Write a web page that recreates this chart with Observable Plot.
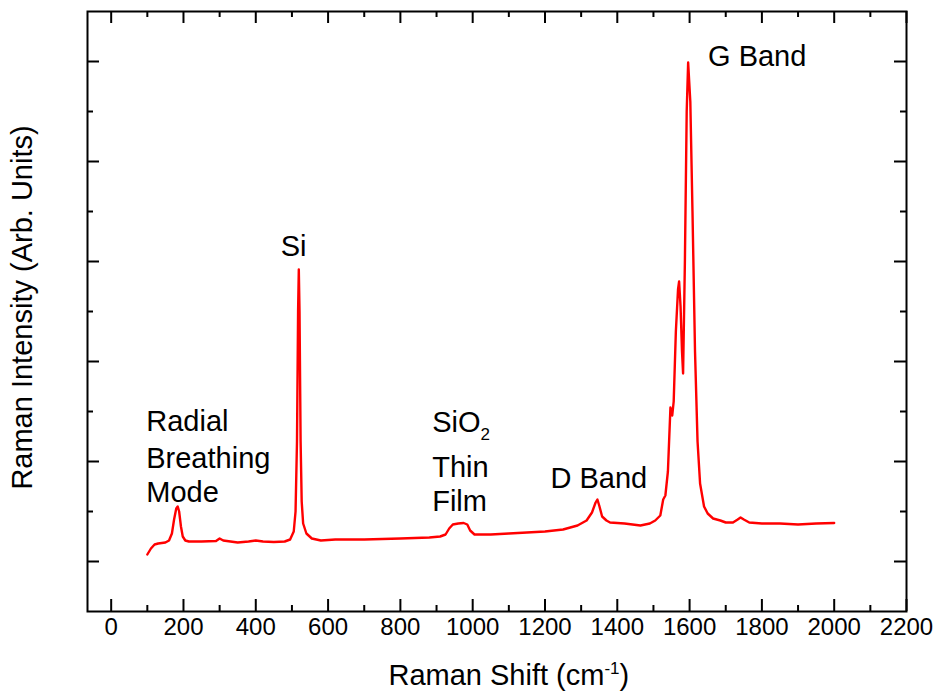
<!DOCTYPE html>
<html>
<head>
<meta charset="utf-8">
<script src="https://cdn.jsdelivr.net/npm/d3@7"></script>
<script src="https://cdn.jsdelivr.net/npm/@observablehq/plot@0.6"></script>
<style>
  html, body { margin: 0; padding: 0; background: #fff; }
  #chart { width: 938px; height: 700px; }
</style>
</head>
<body>
<div id="chart"></div>
<script>
// Spectrum (Raman shift in cm^-1, intensity in arbitrary units)
const shift = [100,110,120,130,140,150,160,168,174,180,184,188,193,198,205,215,250,290,300,310,350,380,400,420,450,480,495,505,510,514,517,519,521,524,527,531,540,555,580,620,700,800,880,910,925,935,945,960,975,985,993,1005,1050,1100,1150,1200,1250,1290,1315,1330,1340,1345,1350,1358,1370,1380,1420,1464,1490,1505,1519,1527,1533,1540,1547,1552,1556,1562,1568,1571,1575,1579,1582,1587,1592,1596,1602,1608,1615,1622,1629,1640,1650,1665,1685,1700,1720,1733,1741,1750,1765,1800,1850,1900,1950,2000];
const intensity = [0.07,0.13,0.17,0.18,0.185,0.19,0.21,0.28,0.42,0.53,0.55,0.50,0.35,0.25,0.21,0.20,0.20,0.205,0.23,0.21,0.19,0.20,0.21,0.20,0.195,0.20,0.22,0.30,0.50,1.2,2.5,2.92,2.5,1.2,0.6,0.38,0.28,0.23,0.21,0.22,0.22,0.23,0.24,0.25,0.27,0.33,0.37,0.38,0.385,0.37,0.31,0.27,0.27,0.28,0.29,0.30,0.32,0.36,0.41,0.49,0.59,0.62,0.56,0.45,0.41,0.39,0.38,0.36,0.38,0.41,0.46,0.62,0.66,0.90,1.54,1.46,1.60,2.30,2.72,2.80,2.55,2.10,1.88,3.0,4.5,4.99,4.6,3.5,2.1,1.2,0.78,0.55,0.48,0.43,0.41,0.39,0.39,0.42,0.44,0.42,0.39,0.38,0.38,0.37,0.38,0.385];

// Axis ticks
const xMajor = [0,200,400,600,800,1000,1200,1400,1600,1800,2000,2200];
const xMinor = [100,300,500,700,900,1100,1300,1500,1700,1900,2100];
const xTickLabels = ["0","200","400","600","800","1000","1200","1400","1600","1800","2000","2200"];
const yMajor = [0,1,2,3,4,5];
const yMinor = [0.5,1.5,2.5,3.5,4.5];

// Annotations (left edge in cm^-1, vertical middle in intensity units)
const noteText = ["G Band","Si","Radial","Breathing","Mode","SiO2","Thin","Film","D Band"];
const noteX = [1651,469,97,97,97,888,888,888,1215];
const noteY = [5.05,3.15,1.40,1.03,0.69,1.39,0.94,0.60,0.83];

const xTitle = "Raman Shift (cm-1)";
const yTitle = "Raman Intensity (Arb. Units)";

const spectrum = shift.map((s, i) => ({shift: s, intensity: intensity[i]}));
const notes = noteText.map((t, i) => ({text: t, x: noteX[i], y: noteY[i]}));
const xTicks = xMajor.map((v, i) => ({v, label: xTickLabels[i]}));

const W = 938, H = 700;
const mL = 87, mR = 32, mT = 11, mB = 89;
const fw = W - mL - mR, fh = H - mT - mB;
const majorLen = 12, minorLen = 6;

const chart = Plot.plot({
  width: W,
  height: H,
  marginLeft: mL,
  marginRight: mR,
  marginTop: mT,
  marginBottom: mB,
  style: {fontFamily: "'Liberation Sans', Arial, sans-serif", background: "#fff", color: "#000"},
  x: {domain: [-65.5, 2200], axis: null},
  y: {domain: [-0.5, 5.5], axis: null},
  marks: [
    Plot.line(spectrum, {x: "shift", y: "intensity", stroke: "#ff0000", strokeWidth: 2.4, strokeLinejoin: "round"}),
    // bottom / top ticks (inward)
    Plot.tickX(xMajor, {x: d => d, insetTop: fh - majorLen, stroke: "#000", strokeWidth: 2}),
    Plot.tickX(xMajor, {x: d => d, insetBottom: fh - majorLen, stroke: "#000", strokeWidth: 2}),
    Plot.tickX(xMinor, {x: d => d, insetTop: fh - minorLen, stroke: "#000", strokeWidth: 2}),
    Plot.tickX(xMinor, {x: d => d, insetBottom: fh - minorLen, stroke: "#000", strokeWidth: 2}),
    // left / right ticks (inward)
    Plot.tickY(yMajor, {y: d => d, insetRight: fw - majorLen, stroke: "#000", strokeWidth: 2}),
    Plot.tickY(yMajor, {y: d => d, insetLeft: fw - majorLen, stroke: "#000", strokeWidth: 2}),
    Plot.tickY(yMinor, {y: d => d, insetRight: fw - minorLen, stroke: "#000", strokeWidth: 2}),
    Plot.tickY(yMinor, {y: d => d, insetLeft: fw - minorLen, stroke: "#000", strokeWidth: 2}),
    Plot.frame({stroke: "#000", strokeWidth: 2}),
    // tick labels
    Plot.text(xTicks, {x: "v", text: "label", frameAnchor: "bottom", dy: 23, fontSize: 24, fill: "#000"}),
    // annotations
    Plot.text(notes, {x: "x", y: "y", text: "text", textAnchor: "start", fontSize: 29, fill: "#000"}),
    // axis titles
    Plot.text([1100], {x: d => d, text: () => xTitle, frameAnchor: "bottom", dy: 73, fontSize: 29, fill: "#000"}),
    Plot.text([0], {text: () => yTitle, frameAnchor: "left", textAnchor: "middle", dx: -65, dy: -4, rotate: -90, fontSize: 29, fill: "#000"})
  ]
});

document.getElementById("chart").appendChild(chart);

// superscript for the x-axis title
d3.select(chart).selectAll("text").filter(function() { return this.textContent === xTitle; })
  .each(function() {
    const t = d3.select(this);
    t.text(null);
    t.append("tspan").text("Raman Shift (cm");
    t.append("tspan").attr("dy", -11).attr("font-size", 17).text("-1");
    t.append("tspan").attr("dy", 11).text(")");
  });

// subscript for SiO2
d3.select(chart).selectAll("text").filter(function() { return this.textContent === "SiO2"; })
  .each(function() {
    const t = d3.select(this);
    t.text(null);
    t.append("tspan").text("SiO");
    t.append("tspan").attr("dy", 8).attr("font-size", 17).text("2");
  });
</script>
</body>
</html>
